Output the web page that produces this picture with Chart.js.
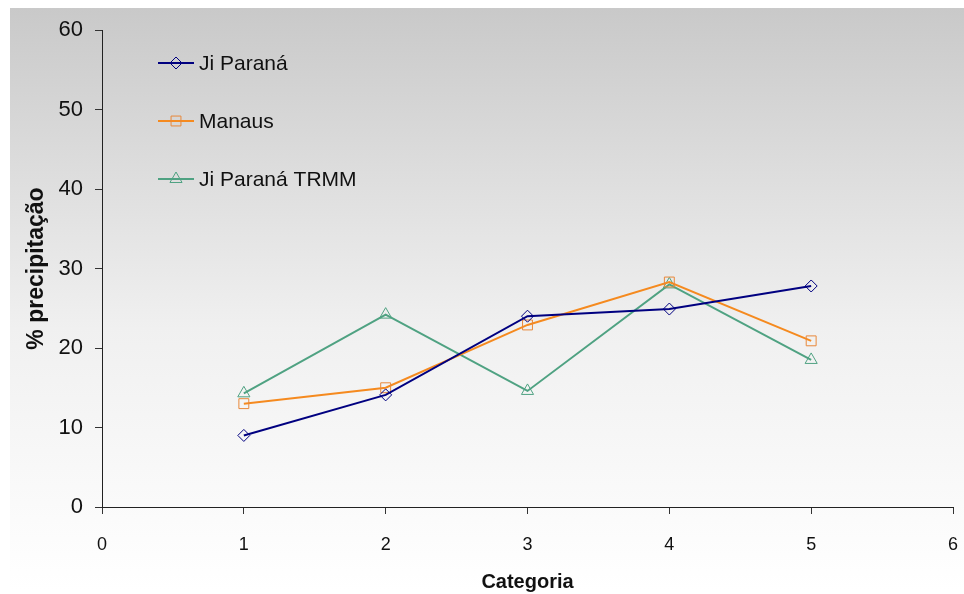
<!DOCTYPE html>
<html>
<head>
<meta charset="utf-8">
<script src="https://cdn.jsdelivr.net/npm/chart.js@4.4.0/dist/chart.umd.min.js"></script>
<style>
    html, body { margin: 0; padding: 0; background: #fff; }
    #wrap { position: relative; width: 964px; height: 594px; }
</style>
</head>
<body>
<div id="wrap"><canvas id="chart" width="964" height="594"></canvas></div>
<script>
// categories on x and the three series
const categorias = [1, 2, 3, 4, 5];
const jiParana = [9.0, 14.1, 24.0, 24.9, 27.8];
const manaus = [13.0, 15.0, 22.9, 28.3, 20.9];
const jiParanaTrmm = [14.3, 24.2, 14.6, 28.0, 18.5];
const seriesNames = ['Ji Paraná', 'Manaus', 'Ji Paraná TRMM'];

const toPoints = (vals) => vals.map((v, i) => ({ x: categorias[i], y: v }));

// grey to white background behind the whole chart
const bgPlugin = {
    id: 'bg',
    beforeDraw(chart) {
        const ctx = chart.ctx;
        const g = ctx.createLinearGradient(0, 8, 0, 590);
        g.addColorStop(0, '#c9c9c9');
        g.addColorStop(0.55, '#f0f0f0');
        g.addColorStop(1, '#ffffff');
        ctx.save();
        ctx.fillStyle = g;
        ctx.fillRect(10, 8, chart.width - 10, 582);
        ctx.restore();
    }
};

// legend drawn inside the plot: line with hollow marker, then the name
const legendPlugin = {
    id: 'insideLegend',
    afterDraw(chart) {
        const ctx = chart.ctx;
        const area = chart.chartArea;
        chart.data.datasets.forEach((ds, i) => {
            const y = area.top + 33 + i * 58;
            const x0 = area.left + 56;
            const x1 = area.left + 92;
            ctx.save();
            ctx.strokeStyle = ds.borderColor;
            ctx.lineWidth = 2;
            ctx.beginPath();
            ctx.moveTo(x0, y);
            ctx.lineTo(x1, y);
            ctx.stroke();
            ctx.strokeStyle = ds.pointBorderColor;
            ctx.fillStyle = 'rgba(0,0,0,0)';
            ctx.lineWidth = 1;
            Chart.helpers.drawPoint(ctx, {
                pointStyle: ds.pointStyle,
                radius: ds.pointRadius,
                borderWidth: 1
            }, (x0 + x1) / 2, y);
            ctx.fillStyle = '#111';
            ctx.font = '21px "Liberation Sans", Arial, sans-serif';
            ctx.textBaseline = 'middle';
            ctx.fillText(ds.label, x1 + 5, y + 1);
            ctx.restore();
        });
    }
};

function makeSet(label, vals, color, markColor, style) {
    return {
        label: label,
        data: toPoints(vals),
        borderColor: color,
        borderWidth: 2,
        pointStyle: style,
        pointRadius: style === 'rectRot' ? 6 : 7,
        pointBorderColor: markColor,
        pointBackgroundColor: 'rgba(0,0,0,0)',
        pointBorderWidth: 1,
        tension: 0
    };
}

const ctx = document.getElementById('chart').getContext('2d');
new Chart(ctx, {
    type: 'line',
    data: {
        datasets: [
            makeSet(seriesNames[0], jiParana, '#000080', '#000080', 'rectRot'),
            makeSet(seriesNames[1], manaus, '#f58a1f', '#e8883a', 'rect'),
            makeSet(seriesNames[2], jiParanaTrmm, '#4fa282', '#4fa282', 'triangle')
        ]
    },
    options: {
        responsive: false,
        animation: false,
        layout: { padding: { top: 30, right: 11, left: 0, bottom: 0 } },
        plugins: {
            legend: { display: false },
            tooltip: { enabled: false }
        },
        scales: {
            x: {
                type: 'linear',
                min: 0,
                max: 6,
                ticks: {
                    stepSize: 1,
                    color: '#111',
                    padding: 20,
                    font: { family: '"Liberation Sans", Arial', size: 18 }
                },
                grid: { drawOnChartArea: false, tickLength: 7, color: '#333' },
                border: { color: '#222', width: 1 },
                title: {
                    display: true,
                    text: 'Categoria',
                    color: '#111',
                    padding: { top: 0, bottom: 0 },
                    font: { family: '"Liberation Sans", Arial', size: 20, weight: 'bold' }
                },
                afterFit(scale) {
                    scale.height = 87;
                    scale.paddingLeft = 0;
                    scale.paddingRight = 0;
                }
            },
            y: {
                min: 0,
                max: 60,
                ticks: {
                    stepSize: 10,
                    color: '#111',
                    padding: 12,
                    font: { family: '"Liberation Sans", Arial', size: 22 }
                },
                grid: { drawOnChartArea: false, tickLength: 7, color: '#333' },
                border: { color: '#222', width: 1 },
                title: {
                    display: true,
                    text: '% precipitação',
                    color: '#111',
                    padding: { top: 23, bottom: 0 },
                    font: { family: '"Liberation Sans", Arial', size: 23, weight: 'bold' }
                },
                afterFit(scale) {
                    scale.width = 102;
                    scale.paddingTop = 0;
                    scale.paddingBottom = 0;
                }
            }
        }
    },
    plugins: [bgPlugin, legendPlugin]
});
</script>
</body>
</html>
